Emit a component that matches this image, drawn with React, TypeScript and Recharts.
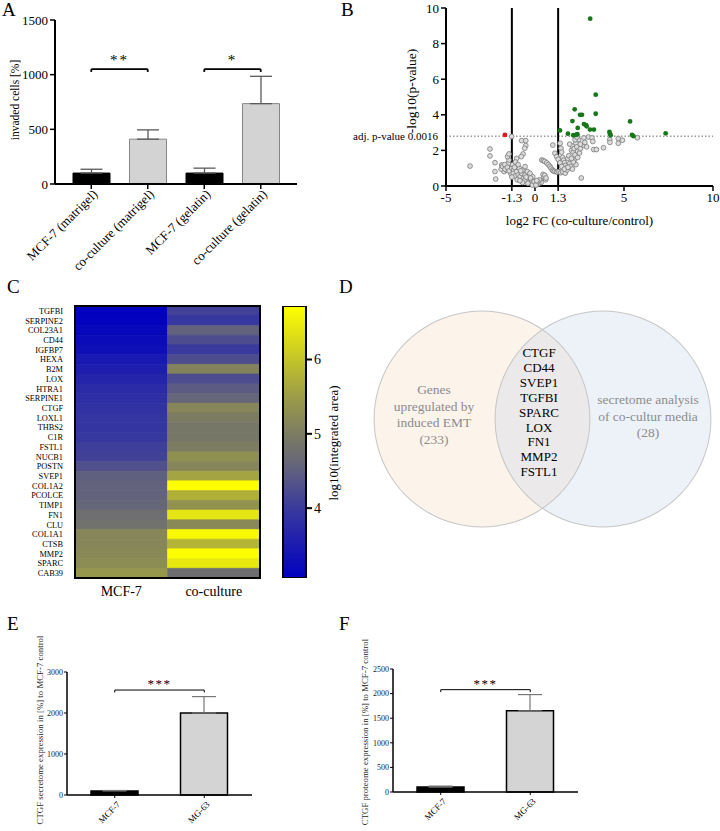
import React from "react";
import {
  BarChart,
  Bar,
  XAxis,
  YAxis,
  ErrorBar,
  Cell,
  ReferenceLine,
  ScatterChart,
  Scatter,
  PieChart,
  Pie,
} from "recharts";

const FONT = '"Liberation Serif", "Times New Roman", serif';

// A - transwell invasion
const invasionGroups = ["MCF-7 (matrigel)", "co-culture (matrigel)", "MCF-7 (gelatin)", "co-culture (gelatin)"];
const invasionMeans = [100, 410, 100, 735];
const invasionSem = [35, 85, 45, 250];
const invasionTicks = [0, 500, 1000, 1500];
const invasionBrackets = [
  { from: 0, to: 1, y: 1050, stars: "**" },
  { from: 2, to: 3, y: 1050, stars: "*" },
];

// B - volcano plot (log2 FC, -log10 p)
const volcanoGray: [number, number][] = [
  [-3.65, 1.12], [-2.53, 2.08], [-2.53, 1.69], [-2.25, 1.31], [-2.25, 0.81], [-2.21, 0.39], [-1.31, 2.78],
  [-1.87, 1.18], [-1.78, 0.99], [-1.74, 0.81], [-1.63, 1.09], [-1.59, 0.9], [-1.5, 1.27], [-1.4, 0.99],
  [-1.37, 0.71], [-1.46, 1.46], [-1.54, 1.65], [-1.46, 1.8], [-1.9, 0.95], [-1.82, 1.1], [-1.7, 1.2],
  [-1.68, 0.95], [-1.55, 1.05], [-1.45, 0.85], [-1.3, 1.0], [-1.25, 1.2], [-1.2, 0.9],
  [-0.75, 2.55], [-0.52, 2.55], [-0.52, 2.27], [-0.58, 2.12], [-0.67, 1.8], [-0.77, 1.65], [-1.03, 1.55],
  [-1.1, 1.35], [-1.22, 0.71], [-1.12, 0.56], [-1.03, 0.81], [-0.94, 0.62], [-0.84, 0.52], [-0.75, 0.71],
  [-0.65, 0.43], [-0.56, 0.62], [-0.47, 0.34], [-0.37, 0.52], [-0.28, 0.24], [-0.19, 0.34], [-0.09, 0.15],
  [0.0, 0.06], [0.09, 0.19], [0.19, 0.11], [-1.03, 1.09], [-0.88, 0.99], [-0.69, 0.9], [-0.56, 1.09],
  [-0.43, 0.81], [-0.28, 0.71], [-0.13, 0.52], [-0.95, 1.2], [-0.8, 0.85], [-1.15, 1.05], [-0.6, 0.3],
  [-0.4, 0.15], [-0.25, 0.45], [-0.15, 0.05], [-0.05, 0.25], [-0.7, 0.2], [-0.5, 0.5], [-1.3, 0.5],
  [-1.0, 0.35], [-0.85, 0.3],
  [0.38, 1.46], [0.47, 1.42], [0.55, 1.38], [0.66, 1.3], [0.75, 1.2], [0.84, 1.1], [0.9, 1.0], [0.97, 0.9],
  [1.03, 0.85], [1.1, 0.82], [1.2, 0.8], [1.25, 0.78], [1.35, 0.8], [1.45, 0.75], [1.55, 0.8], [1.7, 0.72],
  [0.45, 0.65], [0.5, 0.5], [0.55, 0.6], [0.6, 0.35], [0.62, 0.45], [0.3, 0.3], [0.35, 0.2], [0.25, 0.35],
  [0.2, 0.15], [0.15, 0.25], [0.1, 0.1], [0.05, 0.05], [0.1, 0.3],
  [1.0, 2.3], [1.12, 1.84], [1.22, 1.65], [1.41, 2.4], [1.46, 2.12], [1.5, 1.9], [1.55, 1.6], [1.6, 1.45],
  [1.65, 1.3], [1.7, 1.15], [1.75, 1.0], [1.8, 0.9], [1.85, 1.55], [1.9, 1.7], [1.95, 1.25], [2.0, 1.1],
  [2.05, 2.0], [2.1, 2.25], [2.15, 1.9], [2.2, 2.1], [2.25, 1.75], [2.3, 2.4], [2.35, 2.2], [2.4, 1.95],
  [2.45, 2.6], [2.5, 1.85], [2.55, 2.1], [2.2, 1.45], [2.3, 1.2], [2.15, 1.35], [2.4, 1.6], [2.6, 0.45],
  [2.7, 2.3], [2.75, 2.7], [2.8, 2.45], [2.9, 2.2], [3.0, 2.75], [3.2, 2.7], [3.25, 2.5], [3.3, 2.05],
  [3.45, 2.05], [3.85, 2.15], [4.2, 2.6], [4.21, 2.45], [4.68, 2.66], [4.68, 2.4], [4.91, 2.57], [5.75, 2.71],
  [1.3, 1.5], [1.4, 1.3], [1.5, 1.1], [1.65, 0.95], [1.85, 1.05], [2.05, 1.55], [2.1, 0.95], [1.95, 2.35],
  [2.25, 2.6], [2.35, 2.75], [2.55, 2.35],
];
const volcanoUp: [number, number][] = [
  [3.1, 9.4], [3.41, 5.13], [2.23, 4.31], [2.53, 4.0], [2.64, 4.0], [3.41, 4.06], [2.1, 3.65], [5.34, 3.63],
  [2.75, 3.48], [2.87, 3.42], [2.9, 3.35], [2.4, 3.26], [3.09, 3.17], [3.31, 3.17], [1.4, 3.12], [1.85, 2.94],
  [2.15, 2.85], [2.3, 2.87], [2.38, 2.91], [4.18, 3.04], [4.21, 2.93], [4.25, 2.85], [5.45, 2.87], [5.53, 2.8],
  [7.34, 2.96],
];
const volcanoDown: [number, number][] = [[-1.69, 2.87]];
const fcTicks = [-5, -1.3, 0, 1.3, 5, 10];
const pTicks = [0, 2, 4, 6, 8, 10];
const fcCutoff = 1.3;
const pCutoff = 2.8;

// C - heatmap log10(integrated area)
const heatGenes = [
  "TGFBI", "SERPINE2", "COL23A1", "CD44", "IGFBP7", "HEXA", "B2M", "LOX", "HTRA1", "SERPINE1",
  "CTGF", "LOXL1", "THBS2", "C1R", "FSTL1", "NUCB1", "POSTN", "SVEP1", "COL1A2", "PCOLCE",
  "TIMP1", "FN1", "CLU", "COL1A1", "CTSB", "MMP2", "SPARC", "CAB39",
];
const heatMcf7 = [
  3.08, 3.1, 3.18, 3.24, 3.3, 3.45, 3.55, 3.65, 3.75, 3.8, 3.85, 3.9, 3.92, 3.95,
  4.05, 4.1, 4.3, 4.5, 4.55, 4.55, 4.6, 4.75, 4.8, 5.15, 5.15, 5.2, 5.25, 5.4,
];
const heatCoculture = [
  4.1, 3.95, 4.55, 4.25, 4.0, 4.25, 5.1, 4.25, 4.45, 4.6, 5.15, 5.0, 4.9, 4.9,
  5.0, 5.3, 5.15, 5.6, 6.72, 5.75, 5.35, 6.4, 5.2, 6.65, 5.8, 6.7, 6.45, 4.75,
];
const heatColumns = ["MCF-7", "co-culture"];
const scaleRange = [3.06, 6.72];
const scaleTicks = [4, 5, 6];

// D - Venn
const emtLines = ["Genes", "upregulated by", "induced EMT", "(233)"];
const secretomeLines = ["secretome analysis", "of co-cultur media", "(28)"];
const overlapGenes = ["CTGF", "CD44", "SVEP1", "TGFBI", "SPARC", "LOX", "FN1", "MMP2", "FSTL1"];

// E, F - CTGF
const ctgfGroups = ["MCF-7", "MG-63"];
const secretomeMeans = [100, 2000];
const secretomeSem = [10, 400];
const secretomeTicks = [0, 1000, 2000, 3000];
const proteomeMeans = [100, 1650];
const proteomeSem = [20, 330];
const proteomeTicks = [0, 500, 1000, 1500, 2000, 2500];

// colour map for the heatmap (blue -> grey -> yellow)
const cmapStops = [3.06, 4.0, 4.6, 5.0, 5.5, 6.0, 6.72];
const cmapRgb = [
  [0, 0, 192], [58, 58, 158], [102, 102, 122], [124, 124, 98], [156, 156, 72], [196, 196, 42], [255, 255, 0],
];

function heatColor(v: number) {
  if (v <= cmapStops[0]) return `rgb(${cmapRgb[0].join(",")})`;
  for (let i = 1; i < cmapStops.length; i++) {
    if (v <= cmapStops[i]) {
      const t = (v - cmapStops[i - 1]) / (cmapStops[i] - cmapStops[i - 1]);
      const c = cmapRgb[i - 1].map((a, k) => Math.round(a + (cmapRgb[i][k] - a) * t));
      return `rgb(${c.join(",")})`;
    }
  }
  return `rgb(${cmapRgb[cmapRgb.length - 1].join(",")})`;
}

const tickStyle = (size: number, fill = "#000") => ({ fontSize: size, fill, fontFamily: FONT, style: { fontFamily: FONT } });

// rotated axis title centred at (cx, cy) of the chart svg
const vLabel = (value: string, cx: number, cy: number, size: number, fill = "#000") => ({
  content: () => (
    <text x={cx} y={cy} transform={`rotate(-90 ${cx} ${cy})`} textAnchor="middle" dominantBaseline="central" fontSize={size} fill={fill} style={{ fontFamily: FONT }}>
      {value}
    </text>
  ),
});

function SlantTick(props: any) {
  const { x, y, payload, size, dx = 0, dy = 0 } = props;
  const tx = x + dx;
  const ty = y + dy;
  return (
    <text x={tx} y={ty} transform={`rotate(-45 ${tx} ${ty})`} textAnchor="end" fontSize={size} fill="#000" style={{ fontFamily: FONT }}>
      {payload.value}
    </text>
  );
}

const grayDot = (p: any) => <circle cx={p.cx} cy={p.cy} r={2.4} fill="#dcdcdc" stroke="#7a7a7a" strokeWidth={0.8} />;
const greenDot = (p: any) => <circle cx={p.cx} cy={p.cy} r={2.4} fill="#17781a" />;
const redDot = (p: any) => <circle cx={p.cx} cy={p.cy} r={2.4} fill="#e8141c" />;

function InvasionPanel() {
  const data = invasionGroups.map((g, i) => ({ group: g, mean: invasionMeans[i], err: [0, invasionSem[i]] }));
  return (
    <BarChart width={310} height={286} data={data} margin={{ top: 20, right: 13, left: 0, bottom: 0 }}>
      <XAxis
        dataKey="group"
        height={102}
        interval={0}
        padding={{ left: 8, right: 8 }}
        axisLine={{ stroke: "#000", strokeWidth: 2 }}
        tickLine={{ stroke: "#000", strokeWidth: 1.5 }}
        tickSize={5}
        tick={(p: any) => <SlantTick {...p} size={13} dx={7} dy={4} />}
      />
      <YAxis
        domain={[0, 1500]}
        ticks={invasionTicks}
        width={55}
        axisLine={{ stroke: "#000", strokeWidth: 2 }}
        tickLine={{ stroke: "#000", strokeWidth: 1.5 }}
        tickSize={5}
        tick={tickStyle(13)}
        label={vLabel("invaded cells [%]", 15, 100, 11.5)}
      />
      <Bar dataKey="mean" barSize={37} isAnimationActive={false}>
        {data.map((d, i) => (
          <Cell key={d.group} fill={i % 2 === 0 ? "#000" : "#d3d3d3"} stroke={i % 2 === 0 ? "#000" : "#858585"} strokeWidth={1} />
        ))}
        <ErrorBar dataKey="err" width={11} stroke="#5a5a5a" strokeWidth={1.3} direction="y" />
      </Bar>
      {invasionBrackets.map((b) => [
        <ReferenceLine
          key={b.stars + "h"}
          segment={[{ x: invasionGroups[b.from], y: b.y }, { x: invasionGroups[b.to], y: b.y }]}
          stroke="#000"
          strokeWidth={1.8}
          label={{ value: b.stars, position: "top", offset: 4, fontSize: 15, fill: "#000", letterSpacing: 2, style: { fontFamily: FONT } }}
        />,
        <ReferenceLine key={b.stars + "l"} segment={[{ x: invasionGroups[b.from], y: b.y }, { x: invasionGroups[b.from], y: b.y - 25 }]} stroke="#000" strokeWidth={1.8} />,
        <ReferenceLine key={b.stars + "r"} segment={[{ x: invasionGroups[b.to], y: b.y }, { x: invasionGroups[b.to], y: b.y - 25 }]} stroke="#000" strokeWidth={1.8} />,
      ])}
    </BarChart>
  );
}

function VolcanoPanel() {
  const toPts = (arr: [number, number][]) => arr.map(([x, y]) => ({ x, y }));
  return (
    <ScatterChart width={380} height={235} margin={{ top: 8, right: 7, left: 0, bottom: 0 }}>
      <XAxis
        type="number"
        dataKey="x"
        domain={[-5, 10]}
        ticks={fcTicks}
        interval={0}
        height={49}
        axisLine={{ stroke: "#000", strokeWidth: 2 }}
        tickLine={{ stroke: "#000", strokeWidth: 1.5 }}
        tickSize={5}
        tick={tickStyle(13)}
        label={{ value: "log2 FC (co-culture/control)", position: "insideBottom", offset: 10, fontSize: 13, fill: "#000", style: { fontFamily: FONT } }}
      />
      <YAxis
        type="number"
        dataKey="y"
        domain={[0, 10]}
        ticks={pTicks}
        interval={0}
        width={106}
        axisLine={{ stroke: "#000", strokeWidth: 2 }}
        tickLine={{ stroke: "#000", strokeWidth: 1.5 }}
        tickSize={5}
        tick={tickStyle(13)}
        label={vLabel("-log10(p-value)", 71, 91, 13.5)}
      />
      <ReferenceLine
        y={pCutoff}
        stroke="#666"
        strokeDasharray="1.5 2"
        label={{ value: "adj. p-value 0.0016", position: "left", offset: 8, fontSize: 11, fill: "#000", style: { fontFamily: FONT } }}
      />
      <ReferenceLine x={-fcCutoff} stroke="#000" strokeWidth={2} />
      <ReferenceLine x={fcCutoff} stroke="#000" strokeWidth={2} />
      <Scatter data={toPts(volcanoGray)} shape={grayDot} isAnimationActive={false} />
      <Scatter data={toPts(volcanoUp)} shape={greenDot} isAnimationActive={false} />
      <Scatter data={toPts(volcanoDown)} shape={redDot} isAnimationActive={false} />
    </ScatterChart>
  );
}

function HeatmapPanel() {
  const data = heatGenes.map((g) => ({ gene: g, mcf: 1, co: 1 }));
  return (
    <BarChart layout="vertical" width={270} height={330} data={data} margin={{ top: 10, right: 10, left: 0, bottom: 18 }} barCategoryGap={0} barGap={0}>
      <XAxis
        type="number"
        domain={[0, 2]}
        ticks={[0.5, 1.5]}
        tickFormatter={(v: number) => heatColumns[Math.floor(v)]}
        axisLine={false}
        tickLine={false}
        height={30}
        tick={tickStyle(14)}
      />
      <YAxis type="category" dataKey="gene" width={75} interval={0} axisLine={false} tickLine={false} tickMargin={6} tick={tickStyle(8.3)} />
      <Bar dataKey="mcf" stackId="h" isAnimationActive={false}>
        {heatMcf7.map((v, i) => (
          <Cell key={heatGenes[i]} fill={heatColor(v)} stroke={heatColor(v)} strokeWidth={0.6} />
        ))}
      </Bar>
      <Bar dataKey="co" stackId="h" isAnimationActive={false}>
        {heatCoculture.map((v, i) => (
          <Cell key={heatGenes[i]} fill={heatColor(v)} stroke={heatColor(v)} strokeWidth={0.6} />
        ))}
      </Bar>
    </BarChart>
  );
}

function ColorbarPanel() {
  const span = scaleRange[1] - scaleRange[0];
  return (
    <BarChart width={90} height={330} data={[{ name: "scale", range: scaleRange }]} margin={{ top: 10, right: 0, left: 13, bottom: 48 }} barCategoryGap={0}>
      <defs>
        <linearGradient id="heatScale" x1="0" y1="0" x2="0" y2="1">
          {cmapStops
            .map((s, i) => ({ s, c: cmapRgb[i] }))
            .reverse()
            .map(({ s, c }) => (
              <stop key={s} offset={`${((scaleRange[1] - s) / span) * 100}%`} stopColor={`rgb(${c.join(",")})`} />
            ))}
        </linearGradient>
      </defs>
      <XAxis dataKey="name" hide />
      <YAxis
        orientation="right"
        domain={scaleRange}
        allowDataOverflow
        ticks={scaleTicks}
        width={54}
        axisLine={false}
        tickLine={{ stroke: "#000", strokeWidth: 2 }}
        tickSize={6}
        tick={tickStyle(14)}
        label={vLabel("log10(integrated area)", 63, 147, 13)}
      />
      <Bar dataKey="range" fill="url(#heatScale)" stroke="#000" strokeWidth={2} isAnimationActive={false} />
    </BarChart>
  );
}

function VennPanel() {
  const one = [{ v: 1 }];
  const circles = [
    { cx: 117, fill: "#f6d9bf", op: 0.32 },
    { cx: 238, fill: "#b8cce6", op: 0.25 },
  ];
  return (
    <PieChart width={360} height={280}>
      {circles.map((c) => (
        <Pie key={"f" + c.cx} data={one} dataKey="v" cx={c.cx} cy={144} innerRadius={0} outerRadius={108} startAngle={90} endAngle={450} stroke="none" isAnimationActive={false}>
          <Cell fill={c.fill} fillOpacity={c.op} />
        </Pie>
      ))}
      {circles.map((c) => (
        <Pie key={"o" + c.cx} data={one} dataKey="v" cx={c.cx} cy={144} innerRadius={107.4} outerRadius={108.4} startAngle={90} endAngle={450} stroke="none" isAnimationActive={false}>
          <Cell fill="#c6c6c6" />
        </Pie>
      ))}
    </PieChart>
  );
}

function CtgfPanel(props: {
  means: number[];
  sem: number[];
  ticks: number[];
  bracketY: number;
  drop: number;
  label: string;
  width: number;
  top: number;
  right: number;
  yWidth: number;
  xHeight: number;
  labelX: number;
  labelY: number;
  pad: number;
}) {
  const { means, sem, ticks, bracketY, drop, label, width, top, right, yWidth, xHeight, labelX, labelY, pad } = props;
  const data = ctgfGroups.map((g, i) => ({ group: g, mean: means[i], err: [0, sem[i]] }));
  const max = ticks[ticks.length - 1];
  return (
    <BarChart width={width} height={201} data={data} margin={{ top, right, left: 0, bottom: 0 }}>
      <XAxis
        dataKey="group"
        height={xHeight}
        interval={0}
        padding={{ left: pad, right: pad }}
        axisLine={{ stroke: "#000", strokeWidth: 1.5 }}
        tickLine={{ stroke: "#000", strokeWidth: 1 }}
        tickSize={3}
        tick={(p: any) => <SlantTick {...p} size={9} dx={6} dy={5} />}
      />
      <YAxis
        domain={[0, max]}
        ticks={ticks}
        width={yWidth}
        axisLine={{ stroke: "#000", strokeWidth: 1.5 }}
        tickLine={{ stroke: "#000", strokeWidth: 1 }}
        tickSize={3}
        tickMargin={1}
        tick={tickStyle(8, "#222")}
        label={vLabel(label, labelX, labelY, 8.8, "#222")}
      />
      <Bar dataKey="mean" barSize={47} isAnimationActive={false}>
        {data.map((d, i) => (
          <Cell key={d.group} fill={i === 0 ? "#000" : "#d4d4d4"} stroke="#000" strokeWidth={1.5} />
        ))}
        <ErrorBar dataKey="err" width={12} stroke="#777" strokeWidth={1.2} direction="y" />
      </Bar>
      <ReferenceLine
        segment={[{ x: ctgfGroups[0], y: bracketY }, { x: ctgfGroups[1], y: bracketY }]}
        stroke="#000"
        strokeWidth={1}
        label={{ value: "***", position: "top", offset: 2, fontSize: 13, fill: "#000", letterSpacing: 1.5, style: { fontFamily: FONT } }}
      />
      <ReferenceLine segment={[{ x: ctgfGroups[0], y: bracketY }, { x: ctgfGroups[0], y: bracketY - drop }]} stroke="#000" strokeWidth={1} />
      <ReferenceLine segment={[{ x: ctgfGroups[1], y: bracketY }, { x: ctgfGroups[1], y: bracketY - drop }]} stroke="#000" strokeWidth={1} />
    </BarChart>
  );
}

const abs = (left: number, top: number): React.CSSProperties => ({ position: "absolute", left, top });

export default function App() {
  const letter = (ch: string, left: number, top: number) => (
    <div style={{ ...abs(left, top), fontSize: 19, lineHeight: 1 }}>{ch}</div>
  );
  return (
    <div style={{ position: "absolute", left: 0, top: 0, width: 720, height: 831, background: "#fff", fontFamily: FONT, overflow: "hidden" }}>
      <div style={abs(0, 0)}>
        <InvasionPanel />
      </div>
      <div style={abs(340, 0)}>
        <VolcanoPanel />
      </div>
      <div style={abs(0, 296)}>
        <HeatmapPanel />
      </div>
      <div style={{ ...abs(74, 305), width: 187, height: 274, border: "2px solid #000", boxSizing: "border-box", pointerEvents: "none" }} />
      <div style={abs(270, 296)}>
        <ColorbarPanel />
      </div>

      <div style={abs(360, 270)}>
        <VennPanel />
      </div>
      <div style={{ ...abs(364, 382), width: 140, textAlign: "center", fontSize: 13.5, lineHeight: "16.6px", color: "#8c8c8c" }}>
        {emtLines.map((t) => (
          <div key={t}>{t}</div>
        ))}
      </div>
      <div style={{ ...abs(568, 392), width: 160, textAlign: "center", fontSize: 13.5, lineHeight: "16.6px", color: "#8c8c8c" }}>
        {secretomeLines.map((t) => (
          <div key={t}>{t}</div>
        ))}
      </div>
      <div style={{ ...abs(499, 346), width: 80, textAlign: "center", fontSize: 13, lineHeight: "14.9px", color: "#000" }}>
        {overlapGenes.map((t) => (
          <div key={t}>{t}</div>
        ))}
      </div>

      <div style={abs(0, 630)}>
        <CtgfPanel
          means={secretomeMeans}
          sem={secretomeSem}
          ticks={secretomeTicks}
          bracketY={2560}
          drop={60}
          label="CTGF secretome expression in [%] to MCF-7 control"
          width={270}
          top={42}
          right={18}
          yWidth={67}
          xHeight={36}
          labelX={40}
          labelY={100}
          pad={3}
        />
      </div>
      <div style={abs(360, 630)}>
        <CtgfPanel
          means={proteomeMeans}
          sem={proteomeSem}
          ticks={proteomeTicks}
          bracketY={2080}
          drop={50}
          label="CTGF proteome expression in [%] to MCF-7 control"
          width={240}
          top={39}
          right={22}
          yWidth={33}
          xHeight={39}
          labelX={5}
          labelY={102}
          pad={3}
        />
      </div>

      {letter("A", 2, 0)}
      {letter("B", 341, 0)}
      {letter("C", 7, 277)}
      {letter("D", 339, 277)}
      {letter("E", 7, 614)}
      {letter("F", 339, 614)}
    </div>
  );
}
